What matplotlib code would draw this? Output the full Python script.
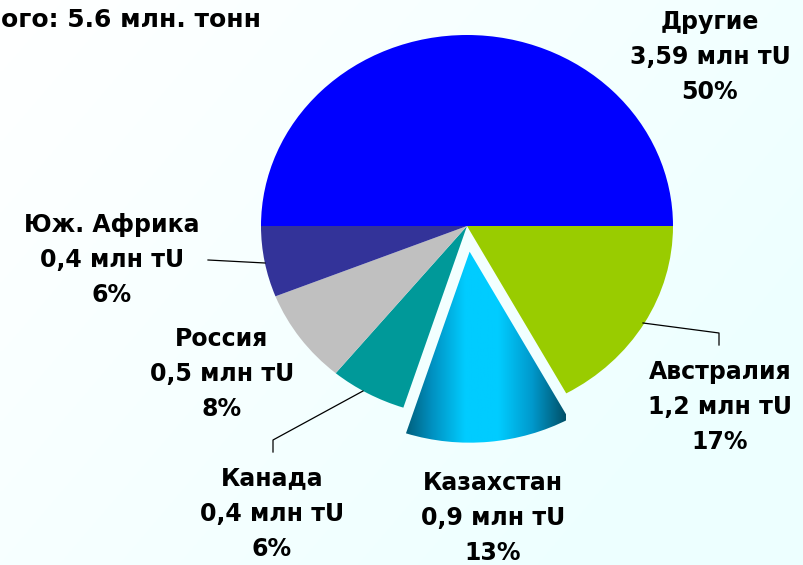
import numpy as np
import matplotlib.pyplot as plt
from matplotlib.colors import LinearSegmentedColormap

# shares in %, clockwise from 3 o'clock
names = ['Австралия', 'Казахстан', 'Канада', 'Россия', 'Юж. Африка', 'Другие']
amounts = ['1,2', '0,9', '0,4', '0,5', '0,4', '3,59']
shares = [17, 13, 6, 8, 6, 50]
colors = ['#99CC00', '#00CCFF', '#009999', '#C0C0C0', '#333399', '#0000FF']
explode = [0, 0.135, 0, 0, 0, 0]
title = 'ого: 5.6 млн. тонн'

W, H = 804, 565
cx, cy, rx, ry = 467, 226, 206, 191

fig = plt.figure(figsize=(W / 100, H / 100), dpi=100)
ax = fig.add_axes([0, 0, 1, 1])

wedges, _ = ax.pie(shares, colors=colors, explode=explode, startangle=0,
                   counterclock=False, radius=1, center=(0, 0),
                   wedgeprops=dict(linewidth=0))
ax.set_aspect('auto')
ax.set_xlim(-cx / rx, (W - cx) / rx)
ax.set_ylim(-(H - cy) / ry, cy / ry)
ax.axis('off')

# pixel -> data helpers
def px(x):
    return (x - cx) / rx

def py(y):
    return (cy - y) / ry

# background gradient
gx, gy = np.meshgrid(np.linspace(0, 1, 200), np.linspace(0, 1, 200))
t = np.clip(0.75 * gx + 0.45 * gy, 0, 1)
bg = np.zeros((200, 200, 3))
top, bot = np.array([1.0, 1.0, 1.0]), np.array([0.93, 1.0, 1.0])
for k in range(3):
    bg[..., k] = top[k] + (bot[k] - top[k]) * t
ax.imshow(bg, extent=(px(0), px(W), py(H), py(0)), origin='upper',
          aspect='auto', zorder=-10)

# cylinder-like shading on the exploded slice
kz = wedges[1]
kz.set_facecolor('none')
cmap = LinearSegmentedColormap.from_list(
    'kz', ['#005068', '#0090C0', '#00CCFF', '#00CCFF', '#0099CC', '#005068'])
grad = np.linspace(0, 1, 256).reshape(1, -1)
im = ax.imshow(grad, cmap=cmap, extent=(px(398), px(566), py(445), py(250)),
               aspect='auto', zorder=2)
im.set_clip_path(kz)

# labels
font = dict(family='DejaVu Sans', fontweight='bold', fontsize=17,
            ha='center', va='center', linespacing=1.6)
label_pos = [(720, 407), (493, 518), (272, 514), (222, 374), (112, 260), (710, 57)]
for n, a, s, (x, y) in zip(names, amounts, shares, label_pos):
    ax.text(px(x), py(y), f'{n}\n{a} млн тU\n{s}%', **font)

# leader lines
ax.plot([px(643), px(719), px(719)], [py(323), py(333), py(345)], color='black', lw=0.9)
ax.plot([px(265), px(208)], [py(263), py(260)], color='black', lw=0.9)
ax.plot([px(363), px(273), px(273)], [py(391), py(440), py(452)], color='black', lw=0.9)

ax.text(px(1), py(20), title, family='DejaVu Sans', fontweight='bold',
        fontsize=18, ha='left', va='center')

fig.savefig('out.png', dpi=100)
